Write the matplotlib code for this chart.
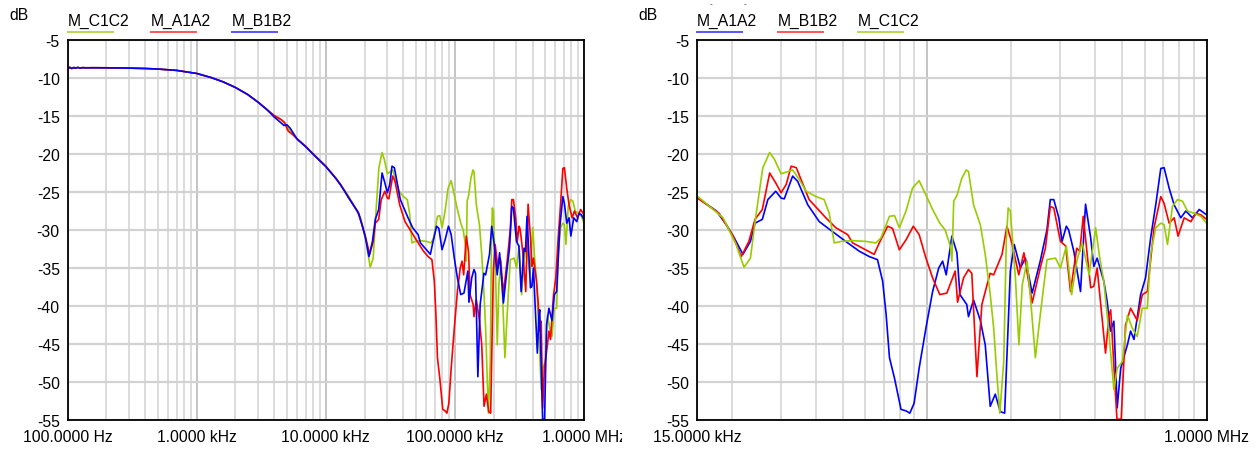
import matplotlib
matplotlib.use('Agg')
import matplotlib.pyplot as plt
from matplotlib.lines import Line2D
from matplotlib.transforms import Bbox
from matplotlib.ticker import FixedLocator, NullFormatter

plt.rcParams['font.family'] = ['Liberation Sans', 'DejaVu Sans']

W, H = 1255, 452
FS = 11.3

# ---------------- data ----------------
# shared low-frequency part (Hz, dB)
low_freq = [100, 104, 108, 112, 116, 120, 125, 130, 140, 160, 200, 300, 400, 500,
            700, 1000, 1300, 1600, 2000, 2500, 3000, 3500]
low_db = [-8.8, -8.6, -8.75, -8.62, -8.72, -8.6, -8.7, -8.64, -8.66, -8.65, -8.66,
          -8.7, -8.75, -8.82, -9.0, -9.4, -9.95, -10.5, -11.25, -12.2, -13.2, -14.15]

# mid part (Hz, dB)
a1a2_mid_freq = [4000, 4500, 4800, 5100, 5500, 6000, 7000, 8000, 10000, 12000, 13000, 14000]
a1a2_mid_db = [-14.95, -15.45, -15.85, -16.95, -17.4, -18.0, -19.0, -20.0, -21.6, -23.2, -24.0, -24.85]
b1b2_mid_freq = [4000, 4500, 4750, 5000, 5300, 6000, 7000, 8000, 10000, 12000, 13000, 14000]
b1b2_mid_db = [-15.15, -15.9, -16.25, -16.15, -16.6, -18.05, -19.05, -20.05, -21.65, -23.25, -24.05, -24.9]
c1c2_mid_freq = [4000, 4500, 4800, 5100, 5500, 6000, 7000, 8000, 10000, 12000, 13000, 14000]
c1c2_mid_db = [-15.0, -15.5, -15.95, -16.6, -17.3, -18.0, -19.0, -20.0, -21.6, -23.2, -24.0, -24.85]

# high part (kHz, dB)
a1a2_khz = [15, 17.6, 19.1, 20.4, 21.9, 23.3, 24.2, 25.7, 26.9, 28.7, 30.0, 30.8, 33.0, 34.4,
            37.4, 41.1, 45.8, 51.1, 57.2, 62.1, 66.4, 69.3, 71.3, 73.3, 76.4, 80.6, 84.0, 86.7,
            89.8, 93.6, 99.0, 104.6, 110, 113.6, 117, 122.6, 127.8, 131, 138.6, 140.6, 146.6,
            155, 161.4, 168.2, 175.3, 182.8, 189.4, 198.5, 205, 215.6, 224.7, 237.6, 254,
            268.5, 276, 284, 296, 304, 315, 321, 335, 354, 369, 385, 395, 406, 429, 441, 453,
            466, 479, 493, 521, 535, 550, 581, 605, 631, 658, 686, 705, 735, 766, 809, 843,
            891, 942, 1000]
a1a2_hdb = [-25.7, -27.5, -29.3, -31.05, -33.2, -31.5, -29.1, -28.6, -26.0, -24.9, -25.8, -25.9,
            -22.9, -23.6, -26.7, -28.9, -30.2, -31.5, -32.8, -33.5, -33.9, -36.75, -41.1, -46.8,
            -49.5, -53.6, -53.8, -54.1, -52.8, -48.2, -42.9, -38.1, -35.0, -34.1, -35.9, -30.8,
            -33.0, -38.5, -39.8, -41.4, -39.2, -41.9, -45.1, -53.2, -51.6, -53.9, -54.1, -35.4,
            -31.9, -35.0, -33.7, -38.3, -34.1, -29.96, -26.0, -26.0, -28.4, -31.5, -29.5, -30.0,
            -32.8, -38.1, -26.6, -31.05, -34.8, -33.7, -36.75, -39.4, -43.3, -42.0, -53.4,
            -48.2, -45.1, -43.3, -44.4, -38.5, -36.3, -31.05, -26.7, -21.9, -21.8, -24.5,
            -26.7, -28.4, -27.5, -28.4, -27.3, -28.0]

b1b2_khz = [15, 18.0, 20.2, 21.6, 23.0, 24.2, 25.7, 27.3, 28.7, 30.0, 31.3, 32.6, 34.0, 37.8,
            43.4, 47.1, 51.9, 54.1, 58.8, 64.6, 67.4, 72.2, 75.2, 79.5, 84.0, 89.2, 93.6, 99.0,
            104.6, 111, 117.6, 126, 128.5, 135, 140.6, 144.5, 150.7, 157, 168, 173, 185.4, 193,
            201, 212.8, 222, 237.6, 254, 265, 276, 284, 300, 313, 326, 343, 352, 362, 385, 395,
            406, 435, 448, 454, 478, 495, 513, 535, 565, 589, 614, 649, 686, 705, 735, 766, 791,
            832, 879, 916, 955, 1000]
b1b2_hdb = [-25.75, -27.8, -30.8, -33.5, -31.5, -28.6, -27.3, -22.5, -23.8, -25.1, -24.0, -21.6,
            -21.8, -26.0, -28.4, -29.7, -30.6, -31.7, -32.4, -33.2, -31.7, -29.5, -29.8, -32.6,
            -31.3, -29.5, -30.6, -33.7, -36.3, -38.5, -38.3, -35.4, -39.5, -36.3, -35.2, -35.7,
            -49.3, -39.8, -35.7, -35.9, -33.2, -29.5, -31.7, -35.9, -33.0, -39.6, -35.0, -32.4,
            -26.9, -27.1, -31.5, -32.1, -38.1, -32.4, -32.8, -28.2, -37.6, -37.4, -35.0, -46.2,
            -41.2, -40.5, -54.9, -54.9, -42.5, -40.3, -41.9, -38.5, -38.1, -29.7, -25.6, -26.5,
            -29.1, -28.4, -30.8, -28.4, -28.9, -27.8, -28.0, -28.6]

c1c2_khz = [15, 18.6, 20.7, 22.1, 23.3, 24.4, 25.8, 27.3, 28.4, 30.0, 33.0, 34.9, 36.9, 40.0,
            42.8, 44.6, 46.5, 49.2, 54.1, 60.4, 65.5, 68.3, 73.3, 76.4, 79.5, 84.0, 88.6, 93.6,
            99.0, 104.6, 111, 116, 121, 122.6, 124.5, 128, 133, 138, 140.6, 146.6, 155, 161.4,
            168, 173, 178, 182, 188, 192, 195, 198.5, 207, 213, 219, 228, 236, 244, 254, 268.5,
            288, 300, 315, 329, 344, 359, 380, 401, 414, 429, 448, 466, 479, 500, 521, 542, 565,
            589, 614, 631, 658, 686, 705, 725, 755, 787, 820, 855, 903, 955, 1000]
c1c2_hdb = [-25.5, -28.4, -31.9, -34.9, -33.7, -28.0, -21.8, -19.8, -20.7, -22.6, -22.1, -23.4,
            -24.9, -25.6, -26.0, -27.8, -31.7, -31.5, -31.4, -31.5, -31.7, -31.05, -28.2, -28.1,
            -29.7, -27.5, -24.5, -23.5, -25.4, -27.3, -29.1, -30.0, -32.1, -34.1, -26.2, -25.4,
            -23.2, -22.1, -22.3, -26.7, -29.3, -33.2, -38.3, -42.9, -49.5, -54.1, -47.3, -31.5,
            -27.1, -27.5, -36.3, -45.1, -37.2, -34.1, -40.3, -46.8, -41.2, -33.9, -33.7, -35.0,
            -32.1, -38.5, -33.9, -31.7, -35.9, -29.7, -33.5, -36.75, -43.8, -51.0, -48.2, -47.3,
            -41.2, -42.9, -44.0, -40.3, -40.3, -33.2, -29.7, -29.1, -29.3, -31.9, -26.9, -26.0,
            -26.2, -27.5, -27.8, -28.2, -29.1]

def series(mid_f, mid_db, khz, hdb):
    f = low_freq + mid_f + [k * 1000 for k in khz]
    d = low_db + mid_db + hdb
    return f, d

data = {
    'M_A1A2': series(a1a2_mid_freq, a1a2_mid_db, a1a2_khz, a1a2_hdb),
    'M_B1B2': series(b1b2_mid_freq, b1b2_mid_db, b1b2_khz, b1b2_hdb),
    'M_C1C2': series(c1c2_mid_freq, c1c2_mid_db, c1c2_khz, c1c2_hdb),
}

left_order = ['M_C1C2', 'M_A1A2', 'M_B1B2']
left_colors = {'M_C1C2': '#99cc00', 'M_A1A2': '#ff0000', 'M_B1B2': '#0000ff'}
right_order = ['M_A1A2', 'M_B1B2', 'M_C1C2']
right_colors = {'M_A1A2': '#0000ff', 'M_B1B2': '#ff0000', 'M_C1C2': '#99cc00'}
legend_light = {'#99cc00': '#b5d94f', '#ff0000': '#ff5555', '#0000ff': '#5555ff'}

y_ticks = list(range(-55, 0, 5))
left_xticks = [1e2, 1e3, 1e4, 1e5, 1e6]
left_xlabels = ['100.0000 Hz', '1.0000 kHz', '10.0000 kHz', '100.0000 kHz', '1.0000 MHz']
right_xticks = [15e3, 1e5, 1e6]
right_xlabels = ['15.0000 kHz', '', '1.0000 MHz']

# ---------------- figure ----------------
fig = plt.figure(figsize=(W / 100, H / 100), dpi=100)


def rect(l, r, t, b):
    return [l / W, 1 - b / H, (r - l) / W, (b - t) / H]


axL = fig.add_axes(rect(67.5, 584, 41, 421))
axR = fig.add_axes(rect(697, 1206.5, 41, 421))


def style(ax, xlim, major, labels, minor):
    ax.set_xscale('log')
    ax.set_xlim(*xlim)
    ax.set_ylim(-55, -5)
    ax.set_yticks(y_ticks)
    ax.set_yticklabels([str(v) for v in y_ticks], fontsize=FS)
    ax.xaxis.set_major_locator(FixedLocator(major))
    ax.set_xticklabels(labels, fontsize=FS)
    ax.xaxis.set_minor_locator(FixedLocator(minor))
    ax.xaxis.set_minor_formatter(NullFormatter())
    ax.tick_params(which='both', length=0)
    ax.tick_params(axis='x', pad=6.5)
    ax.tick_params(axis='y', pad=5.5)
    ax.grid(True, which='major', axis='x', color='#b4b4b4', lw=1.1)
    ax.grid(True, which='minor', axis='x', color='#d2d2d2', lw=1.1)
    ax.grid(True, which='major', axis='y', color='#d2d2d2', lw=1.6)
    ax.set_axisbelow(True)
    for s in ax.spines.values():
        s.set_linewidth(1.3)
        s.set_color('black')
        s.set_zorder(5)


left_minor = [m * 10 ** e for e in range(2, 6) for m in range(2, 10)]
right_minor = [m * 1e4 for m in range(2, 10)] + [m * 1e5 for m in range(2, 10)]
style(axL, (100, 1e6), left_xticks, left_xlabels, left_minor)
style(axR, (15e3, 1e6), right_xticks, right_xlabels, right_minor)

for name in left_order:
    f, d = data[name]
    axL.plot(f, d, color=left_colors[name], lw=1.2)
for name in right_order:
    f, d = data[name]
    axR.plot(f, d, color=right_colors[name], lw=1.2)

# clip the last left tick label like the reference
lab = axL.get_xticklabels()[-1]
lab.set_clip_on(True)
lab.set_clip_box(Bbox.from_extents(0, 0, 622, H))

# dB labels
fig.text(19 / W, 1 - 16 / H, 'dB', ha='center', va='center', fontsize=FS)
fig.text(648 / W, 1 - 16 / H, 'dB', ha='center', va='center', fontsize=FS)

# tiny marks above the right legend
for xm in (711, 745):
    fig.text(xm / W, 1 - 5 / H, '-', ha='center', va='center', fontsize=6, color='#333333')

# legends
def legend(order, colors, xs):
    for name, x in zip(order, xs):
        fig.text(x / W, 1 - 21 / H, name, ha='left', va='center', fontsize=FS)
        c = legend_light[colors[name]]
        fig.add_artist(Line2D([x / W, (x + 45) / W], [1 - 32.5 / H] * 2,
                              transform=fig.transFigure, color=c, lw=1.4))


legend(left_order, left_colors, [68, 150.5, 232])
legend(right_order, right_colors, [697, 777.5, 858])

fig.savefig('out.png', dpi=100)
